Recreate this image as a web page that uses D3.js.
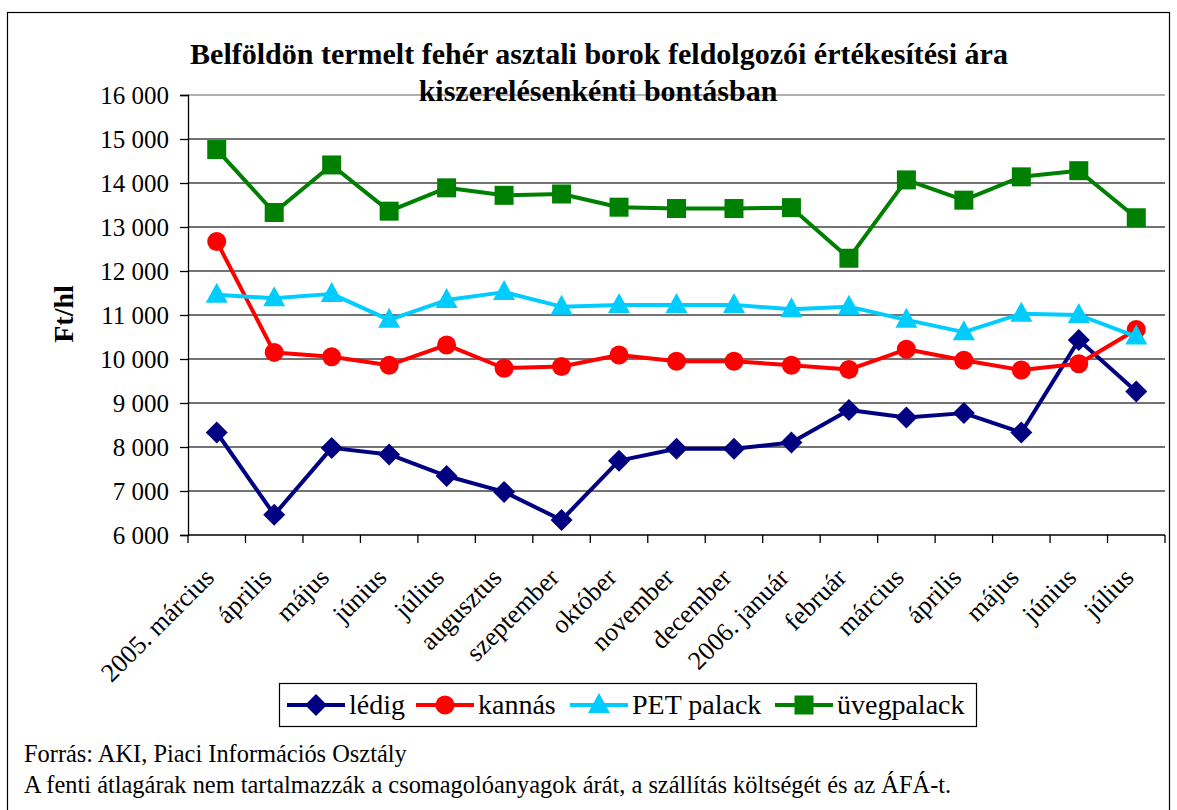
<!DOCTYPE html>
<html>
<head>
<meta charset="utf-8">
<script src="https://cdn.jsdelivr.net/npm/d3@7"></script>
<style>
  body { margin: 0; background: #fff; }
  svg text { font-family: "Liberation Serif", "Times New Roman", serif !important; }
</style>
</head>
<body>
<div class="chart"></div>
<script>
var months = ["2005. március", "április", "május", "június", "július", "augusztus",
  "szeptember", "október", "november", "december", "2006. január", "február",
  "március", "április", "május", "június", "július"];

var ledig = [8330, 6460, 7980, 7830, 7340, 6980, 6340, 7690, 7960, 7960, 8100, 8840, 8670, 8770, 8330, 10430, 9260];
var kannas = [12670, 10150, 10050, 9860, 10320, 9790, 9830, 10090, 9950, 9950, 9860, 9760, 10220, 9970, 9750, 9890, 10670];
var petPalack = [11460, 11380, 11480, 10890, 11340, 11520, 11190, 11230, 11230, 11230, 11130, 11190, 10890, 10610, 11030, 11000, 10510];
var uvegpalack = [14760, 13330, 14410, 13360, 13890, 13720, 13750, 13450, 13420, 13420, 13440, 12290, 14070, 13610, 14140, 14280, 13210];

var yTicks = [6000, 7000, 8000, 9000, 10000, 11000, 12000, 13000, 14000, 15000, 16000];

var series = [
  { name: "lédig", values: ledig, color: "#000080", symbol: "diamond" },
  { name: "kannás", values: kannas, color: "#ff0000", symbol: "circle" },
  { name: "PET palack", values: petPalack, color: "#00ccff", symbol: "triangle" },
  { name: "üvegpalack", values: uvegpalack, color: "#008000", symbol: "square" }
];

var fullWidth = 1177, fullHeight = 810;
var plot = { left: 188, right: 1165, top: 95, bottom: 535 };

var svg = d3.select(".chart").append("svg")
  .attr("width", fullWidth)
  .attr("height", fullHeight)
  .attr("font-family", "Liberation Serif");

// outer frame
svg.append("rect")
  .attr("x", 7.5).attr("y", 12.5)
  .attr("width", 1162).attr("height", 806)
  .attr("fill", "none").attr("stroke", "#000").attr("stroke-width", 1.2);

var xScale = d3.scaleBand().domain(months.map((d, i) => i)).range([plot.left, plot.right]);
var yScale = d3.scaleLinear().domain([6000, 16000]).range([plot.bottom, plot.top]);
var cx = i => xScale(i) + xScale.bandwidth() / 2;

// gridlines
svg.append("g").selectAll("line")
  .data(yTicks.slice(1))
  .join("line")
  .attr("x1", plot.left).attr("x2", plot.right)
  .attr("y1", d => yScale(d)).attr("y2", d => yScale(d))
  .attr("stroke", d => d === 16000 ? "#999" : "#444")
  .attr("stroke-width", 1.3);

// y axis
var yAxis = svg.append("g")
  .attr("transform", `translate(${plot.left},0)`)
  .call(d3.axisLeft(yScale).tickValues(yTicks).tickSize(8).tickPadding(11)
    .tickFormat(d => d3.format(",")(d).replace(",", " ")));
yAxis.select(".domain").attr("stroke", "#000").attr("stroke-width", 1.3);
yAxis.selectAll(".tick line").attr("stroke", "#000").attr("stroke-width", 1.3);
yAxis.selectAll("text")
  .attr("fill", "#000")
  .style("font-size", "25px");

// x axis line + boundary ticks
var bounds = months.map((d, i) => xScale(i)).concat([plot.right]);
svg.append("line")
  .attr("x1", plot.left).attr("x2", plot.right)
  .attr("y1", plot.bottom).attr("y2", plot.bottom)
  .attr("stroke", "#000").attr("stroke-width", 1.3);
svg.append("g").selectAll("line")
  .data(bounds)
  .join("line")
  .attr("x1", d => d).attr("x2", d => d)
  .attr("y1", plot.bottom).attr("y2", plot.bottom + 8)
  .attr("stroke", "#000").attr("stroke-width", 1.3);

// x labels, rotated
svg.append("g").selectAll("text")
  .data(months)
  .join("text")
  .attr("transform", (d, i) => `translate(${cx(i) - 1},${plot.bottom + 44}) rotate(-45)`)
  .attr("text-anchor", "end")
  .style("font-size", "26px")
  .text(d => d);

// y title
svg.append("text")
  .attr("transform", "translate(73,314) rotate(-90)")
  .attr("text-anchor", "middle")
  .style("font-size", "28px")
  .style("font-weight", "bold")
  .text("Ft/hl");

// title
var title = svg.append("text")
  .attr("text-anchor", "middle")
  .style("font-size", "30px")
  .style("font-weight", "bold");
title.append("tspan").attr("x", 599).attr("y", 64)
  .text("Belföldön termelt fehér asztali borok feldolgozói értékesítési ára");
title.append("tspan").attr("x", 598).attr("y", 101)
  .text("kiszerelésenkénti bontásban");

// lines and markers
var line = d3.line().x((d, i) => cx(i)).y(d => yScale(d));

function marker(sel, s) {
  if (s.symbol === "circle") {
    sel.append("circle").attr("r", 9.5).attr("fill", s.color);
  } else if (s.symbol === "square") {
    sel.append("rect").attr("x", -9.5).attr("y", -9.5).attr("width", 19).attr("height", 19).attr("fill", s.color);
  } else if (s.symbol === "diamond") {
    sel.append("path").attr("d", "M0,-11L11,0L0,11L-11,0Z").attr("fill", s.color);
  } else {
    sel.append("path").attr("d", "M0,-12L11,8L-11,8Z").attr("fill", s.color);
  }
}

series.forEach(s => {
  svg.append("path")
    .datum(s.values)
    .attr("d", line)
    .attr("fill", "none")
    .attr("stroke", s.color)
    .attr("stroke-width", 4)
    .attr("stroke-linejoin", "round");
  svg.append("g").selectAll("g")
    .data(s.values)
    .join("g")
    .attr("transform", (d, i) => `translate(${cx(i)},${yScale(d)})`)
    .each(function () { marker(d3.select(this), s); });
});

// legend
var legend = svg.append("g");
legend.append("rect")
  .attr("x", 279.5).attr("y", 683.5)
  .attr("width", 697).attr("height", 43)
  .attr("fill", "#fff").attr("stroke", "#000").attr("stroke-width", 1.2);
var legendX = [287, 416, 570, 775];
series.forEach((s, i) => {
  var g = legend.append("g").attr("transform", `translate(${legendX[i]},705)`);
  g.append("line").attr("x1", 0).attr("x2", 58).attr("stroke", s.color).attr("stroke-width", 4);
  var m = g.append("g").attr("transform", "translate(29,0)");
  marker(m, s);
  g.append("text").attr("x", 62).attr("dy", "0.33em")
    .style("font-size", "28px").text(s.name);
});

// footer
svg.append("text").attr("x", 24).attr("y", 762)
  .style("font-size", "24.4px")
  .text("Forrás: AKI, Piaci Információs Osztály");
svg.append("text").attr("x", 24).attr("y", 793)
  .style("font-size", "24.4px")
  .text("A fenti átlagárak nem tartalmazzák a csomagolóanyagok árát, a szállítás költségét és az ÁFÁ-t.");
</script>
</body>
</html>
